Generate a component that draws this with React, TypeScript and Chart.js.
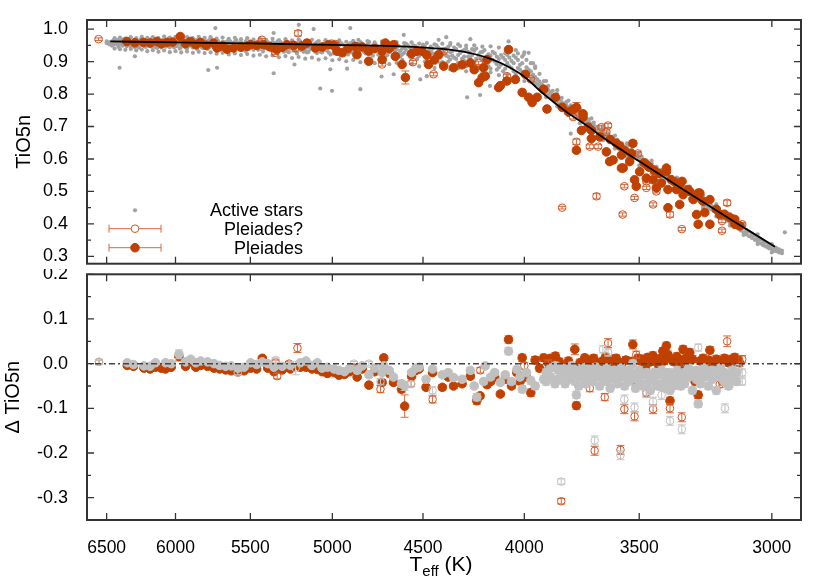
import React, { useEffect, useRef } from 'react';
import { Chart, registerables } from 'chart.js';
Chart.register(...registerables);

const FONT = "'Liberation Sans', Arial, Helvetica, sans-serif";

// ---------- axis ticks ----------
const xTicks = [3000, 3500, 4000, 4500, 5000, 5500, 6000, 6500];
const topYTicks = [0.3, 0.4, 0.5, 0.6, 0.7, 0.8, 0.9, 1.0];
const topYMinor = [0.35, 0.45, 0.55, 0.65, 0.75, 0.85, 0.95];
const botYTicks = [-0.3, -0.2, -0.1, 0.0, 0.1, 0.2];
const botYMinor = [-0.25, -0.15, -0.05, 0.05, 0.15];

// ---------- top panel: active field stars [Teff, TiO5n] ----------
const activeStars: number[][] = [
  [6500,.957],[6500,.962],[6480,.953],[6480,.960],[6450,.958],[6450,.952],[6450,.966],[6430,.963],[6430,.955],
  [6410,.950],[6410,.960],[6410,.945],[6390,.957],[6390,.966],[6370,.953],[6370,.961],[6370,.969],[6350,.958],[6350,.947],
  [6330,.964],[6330,.955],[6330,.950],[6310,.951],[6310,.960],[6290,.957],[6290,.968],[6290,.944],[6270,.949],[6270,.962],
  [6250,.955],[6250,.958],[6250,.968],[6230,.966],[6230,.950],[6210,.958],[6210,.945],[6210,.962],[6190,.962],[6190,.953],
  [6170,.956],[6170,.970],[6170,.946],[6150,.948],[6150,.960],[6130,.963],[6130,.954],[6130,.942],[6110,.951],[6110,.958],
  [6090,.957],[6090,.966],[6090,.947],[6070,.946],[6070,.960],[6050,.955],[6050,.962],[6050,.970],[6030,.959],[6030,.950],
  [6010,.964],[6010,.953],[6010,.944],[5990,.948],[5990,.957],[5970,.956],[5970,.961],[5970,.940],[5950,.952],[5950,.967],
  [5930,.944],[5930,.958],[5930,.950],[5910,.960],[5910,.953],[5890,.955],[5890,.948],[5890,.965],[5870,.962],[5870,.950],
  [5850,.946],[5850,.957],[5850,.938],[5830,.953],[5830,.965],[5810,.958],[5810,.941],[5810,.950],[5790,.950],[5790,.962],
  [5770,.955],[5770,.944],[5770,.966],[5750,.960],[5750,.948],[5730,.942],[5730,.956],[5730,.951],[5710,.951],[5710,.963],
  [5690,.957],[5690,.945],[5690,.936],[5670,.947],[5670,.960],[5650,.954],[5650,.938],[5650,.962],[5630,.962],[5630,.949],
  [5610,.944],[5610,.956],[5610,.934],[5590,.950],[5590,.966],[5570,.958],[5570,.940],[5570,.947],[5550,.946],[5550,.953],
  [5530,.955],[5530,.962],[5530,.932],[5510,.939],[5510,.950],[5490,.959],[5490,.945],[5490,.953],[5470,.948],[5470,.957],
  [5450,.952],[5450,.936],[5450,.962],[5430,.963],[5430,.944],[5410,.941],[5410,.955],[5410,.949],[5390,.950],[5390,.960],
  [5370,.946],[5370,.934],[5370,.956],[5350,.957],[5350,.942],[5330,.938],[5330,.952],[5330,.962],[5310,.960],[5310,.947],
  [5290,.944],[5290,.955],[5290,.930],[5270,.951],[5270,.932],[5250,.940],[5250,.958],[5250,.948],[5230,.948],[5230,.936],
  [5210,.956],[5210,.945],[5210,.925],[5190,.937],[5190,.962],[5170,.950],[5170,.942],[5170,.930],[5150,.944],[5150,.928],
  [5130,.958],[5130,.939],[5130,.949],[5110,.935],[5110,.952],[5090,.948],[5090,.960],[5090,.926],[5070,.941],[5070,.930],
  [5050,.955],[5050,.944],[5050,.935],[5030,.933],[5030,.950],[5010,.946],[5010,.962],[5010,.922],[4990,.939],[4990,.925],
  [4970,.952],[4970,.944],[4970,.932],[4950,.930],[4950,.957],[4930,.945],[4930,.936],[4930,.920],[4910,.950],[4910,.922],
  [4890,.938],[4890,.958],[4890,.928],[4870,.946],[4870,.928],[4850,.931],[4850,.952],[4850,.940],[4830,.955],[4830,.940],
  [4810,.925],[4810,.946],[4810,.935],[4790,.942],[4790,.960],[4770,.934],[4770,.918],[4770,.950],[4750,.950],[4750,.938],
  [4730,.928],[4730,.944],[4730,.912],[4710,.946],[4710,.956],[4690,.920],[4690,.937],[4690,.948],[4670,.940],[4670,.952],
  [4650,.931],[4650,.912],[4650,.944],[4630,.948],[4630,.925],[4610,.922],[4610,.940],[4610,.905],[4590,.936],[4590,.955],
  [4570,.915],[4570,.944],[4570,.928],[4550,.930],[4550,.950],[4530,.942],[4530,.908],[4530,.922],[4510,.924],[4510,.936],
  [4490,.946],[4490,.915],[4490,.900],[4470,.918],[4470,.933],[4450,.940],[4450,.905],[4450,.925],[4430,.927],[4430,.950],
  [4410,.912],[4410,.938],[4410,.895],[4390,.935],[4390,.922],[4370,.945],[4370,.900],[4370,.915],[4350,.918],[4350,.932],
  [4330,.938],[4330,.908],[4330,.890],[4310,.926],[4310,.948],[4290,.902],[4290,.935],[4290,.915],[4270,.930],[4270,.915],
  [4250,.920],[4250,.895],[4250,.938],[4230,.940],[4230,.908],[4210,.912],[4210,.928],[4210,.880],[4190,.898],[4190,.935],
  [4170,.922],[4170,.885],[4170,.910],[4150,.905],[4150,.930],[4130,.915],[4130,.892],[4130,.875],[4110,.890],[4110,.920],
  [4090,.905],[4090,.878],[4090,.925],[4070,.912],[4070,.885],[4050,.895],[4050,.870],[4050,.918],[4030,.905],[4030,.880],
  [4010,.868],[4010,.895],[4010,.915],[3990,.882],[3990,.858],[3990,.905],[3970,.870],[3970,.848],[3970,.895],
  [3950,.852],[3950,.835],[3950,.880],[3930,.838],[3930,.825],[3930,.862],[3910,.820],[3910,.808],[3910,.840],
  [3890,.812],[3890,.798],[3890,.825],[3870,.795],[3870,.785],[3870,.810],[3850,.790],[3850,.775],[3850,.800],
  [3830,.775],[3830,.762],[3830,.788],[3810,.765],[3810,.752],[3810,.775],[3790,.755],[3790,.742],[3790,.765],
  [3770,.745],[3770,.732],[3770,.752],[3750,.735],[3750,.722],[3750,.745],[3730,.725],[3730,.712],[3730,.735],
  [3710,.712],[3710,.702],[3710,.722],[3690,.704],[3690,.692],[3690,.712],[3670,.694],[3670,.680],[3670,.700],
  [3650,.684],[3650,.671],[3650,.690],[3630,.672],[3630,.662],[3630,.680],[3610,.664],[3610,.650],[3610,.668],
  [3590,.652],[3590,.642],[3590,.660],[3570,.643],[3570,.630],[3570,.648],[3550,.632],[3550,.621],[3550,.640],
  [3530,.622],[3530,.610],[3530,.628],[3510,.612],[3510,.601],[3510,.618],[3490,.601],[3490,.590],[3490,.607],
  [3470,.592],[3470,.580],[3470,.596],[3450,.582],[3450,.570],[3450,.587],[3430,.571],[3430,.560],[3430,.576],
  [3410,.562],[3410,.549],[3410,.566],[3390,.550],[3390,.540],[3390,.555],[3370,.541],[3370,.528],[3370,.545],
  [3350,.530],[3350,.518],[3350,.533],[3330,.520],[3330,.507],[3330,.512],[3310,.509],[3310,.496],[3310,.501],
  [3290,.498],[3290,.485],[3290,.490],[3270,.487],[3270,.474],[3270,.480],[3250,.476],[3250,.462],[3250,.469],
  [3230,.465],[3230,.450],[3230,.457],[3210,.452],[3210,.440],[3210,.446],[3190,.442],[3190,.428],[3190,.434],
  [3170,.430],[3170,.416],[3170,.422],[3150,.418],[3150,.404],[3150,.410],[3130,.405],[3130,.392],[3130,.398],
  [3110,.394],[3110,.380],[3110,.386],[3090,.382],[3090,.368],[3090,.375],[3070,.370],[3070,.357],[3070,.363],
  [3050,.358],[3050,.345],[3050,.351],[3030,.348],[3030,.334],[3030,.340],[3010,.337],[3010,.325],[3010,.330],
  [2990,.327],[2990,.318],[2975,.322],[2975,.312],
  [6460,.955],[6460,.949],[6440,.961],[6440,.957],[6420,.952],[6420,.967],[6400,.963],[6400,.954],[6380,.949],[6380,.959],
  [6360,.966],[6360,.956],[6340,.952],[6340,.961],[6320,.958],[6320,.946],[6300,.963],[6300,.951],[6280,.955],[6280,.960],
  [6260,.943],[6260,.964],[6240,.957],[6240,.952],[6220,.961],[6220,.947],[6200,.953],[6200,.966],[6180,.949],[6180,.958],
  [6160,.964],[6160,.952],[6140,.957],[6140,.945],[6120,.961],[6120,.966],[6100,.943],[6100,.954],[6080,.952],[6080,.963],
  [6060,.958],[6060,.949],[6040,.966],[6040,.944],[6020,.951],[6020,.957],[6000,.960],[6000,.947],[5980,.954],[5980,.965],
  [5960,.945],[5960,.959],[5940,.962],[5940,.951],[5920,.956],[5920,.940],[5900,.949],[5900,.963],[5880,.958],[5880,.943],
  [5860,.953],[5860,.966],[5840,.961],[5840,.948],[5820,.944],[5820,.955],[5800,.956],[5800,.962],[5780,.948],[5780,.939],
  [5760,.963],[5760,.952],[5740,.950],[5740,.945],[5720,.959],[5720,.937],[5700,.946],[5700,.954],[5680,.961],[5680,.950],
  [5660,.941],[5660,.957],[5640,.953],[5640,.946],[5620,.958],[5620,.935],[5600,.947],[5600,.961],[5580,.952],[5580,.943],
  [5560,.960],[5560,.937],[5540,.944],[5540,.950],[5520,.957],[5520,.940],[5500,.948],[5500,.962],[5480,.936],[5480,.953],
  [5460,.955],[5460,.944],[5440,.949],[5440,.939],[5420,.957],[5420,.931],[5400,.944],[5400,.952],[5380,.953],[5380,.940],
  [5360,.939],[5360,.960],[5340,.949],[5340,.933],[5320,.955],[5320,.944],[5300,.942],[5300,.950],[5280,.958],[5280,.936],
  [5260,.946],[5260,.929],[5240,.953],[5240,.941],[5220,.933],[5220,.950],[5200,.944],[5200,.957],[5180,.949],[5180,.935],
  [5160,.938],[5160,.955],[5140,.952],[5140,.930],[5120,.943],[5120,.948],[5100,.930],[5100,.956],[5080,.952],[5080,.938],
  [5060,.945],[5060,.928],[5040,.938],[5040,.953],[5020,.949],[5020,.927],[5000,.957],[5000,.940],[4980,.944],[4980,.931],
  [4960,.936],[4960,.950],[4940,.953],[4940,.925],[4920,.940],[4920,.947],[4900,.929],[4900,.955],[4880,.951],[4880,.935],
  [4860,.942],[4860,.921],[4840,.936],[4840,.956],[4820,.948],[4820,.930],[4800,.938],[4800,.952],[4780,.926],[4780,.945],
  [4760,.955],[4760,.931],[4740,.941],[4740,.921],[4720,.935],[4720,.952],[4700,.948],[4700,.916],[4680,.929],[4680,.943],
  [4660,.954],[4660,.920],[4640,.938],[4640,.948],[4620,.916],[4620,.933],[4600,.945],[4600,.927],[4580,.922],[4580,.950],
  [4560,.939],[4560,.911],[4540,.948],[4540,.926],[4520,.930],[4520,.917],[4500,.940],[4500,.952],[4480,.909],[4480,.928],
  [4460,.935],[4460,.946],[4440,.920],[4440,.903],[4420,.942],[4420,.915],[4400,.928],[4400,.898],[4380,.940],[4380,.918],
  [4360,.906],[4360,.929],[4340,.943],[4340,.912],[4320,.920],[4320,.896],[4300,.932],[4300,.909],[4280,.940],[4280,.885],
  [4260,.912],[4260,.926],[4240,.898],[4240,.933],[4220,.920],[4220,.887],[4200,.930],[4200,.905],[4180,.892],[4180,.915],
  [4160,.918],[4160,.878],[4140,.900],[4140,.925],[4120,.882],[4120,.908],[4100,.912],[4100,.870],[4080,.895],[4080,.920],
  [4060,.880],[4060,.902],[4040,.912],[4040,.862],[4020,.890],[4020,.875],
  [3980,.875],[3980,.862],[3960,.860],[3960,.845],[3940,.845],[3940,.830],[3920,.830],[3920,.815],[3900,.818],[3900,.802],
  [3880,.805],[3880,.792],[3860,.795],[3860,.780],[3840,.783],[3840,.770],[3820,.770],[3820,.758],[3800,.760],[3800,.748],
  [3780,.750],[3780,.738],[3760,.740],[3760,.728],[3740,.730],[3740,.718],[3720,.718],[3720,.707],[3700,.708],[3700,.697],
  [3680,.699],[3680,.686],[3660,.689],[3660,.676],[3640,.678],[3640,.667],[3620,.668],[3620,.656],[3600,.658],[3600,.646],
  [3580,.648],[3580,.636],[3560,.637],[3560,.626],[3540,.627],[3540,.616],[3520,.617],[3520,.605],[3500,.606],[3500,.596],
  [3480,.596],[3480,.585],[3460,.587],[3460,.575],[3440,.576],[3440,.565],[3420,.566],[3420,.554],[3400,.556],[3400,.545],
  [3380,.546],[3380,.534],[3360,.535],[3360,.523],[3340,.525],[3340,.512],[3320,.514],[3320,.502],[3300,.503],[3300,.491],
  [3280,.492],[3280,.480],[3260,.481],[3260,.468],[3240,.470],[3240,.456],[3220,.458],[3220,.445],[3200,.447],[3200,.434],
  [3180,.436],[3180,.422],[3160,.424],[3160,.410],[3140,.412],[3140,.398],[3120,.400],[3120,.386],[3100,.388],[3100,.374],
  [3080,.376],[3080,.362],[3060,.364],[3060,.351],[3040,.353],[3040,.340],[3020,.342],[3020,.330],[3000,.332],[3000,.322],
  [2985,.326],[2985,.316],[2965,.318],[2965,.310],
  [6440,.972],[6440,.940],[6400,.974],[6400,.938],[6360,.971],[6360,.936],[6320,.975],[6320,.939],[6280,.972],[6280,.934],
  [6240,.976],[6240,.937],[6200,.973],[6200,.932],[6160,.975],[6160,.935],[6120,.972],[6120,.930],[6080,.977],[6080,.934],
  [6040,.974],[6040,.929],[6000,.976],[6000,.932],[5960,.973],[5960,.928],[5920,.975],[5920,.931],[5880,.972],[5880,.927],
  [5840,.976],[5840,.930],[5800,.973],[5800,.926],[5760,.975],[5760,.928],[5720,.971],[5720,.924],[5680,.974],[5680,.927],
  [5640,.970],[5640,.922],[5600,.973],[5600,.925],[5560,.969],[5560,.920],[5520,.972],[5520,.923],[5480,.968],[5480,.918],
  [5440,.971],[5440,.921],[5400,.967],[5400,.916],[5360,.970],[5360,.919],[5320,.966],[5320,.913],[5280,.969],[5280,.917],
  [5240,.965],[5240,.911],[5200,.968],[5200,.914],[5160,.964],[5160,.909],[5120,.967],[5120,.912],[5080,.963],[5080,.906],
  [5040,.966],[5040,.910],[5000,.962],[5000,.904],[4960,.965],[4960,.907],[4920,.961],[4920,.901],[4880,.964],[4880,.905],
  [4840,.960],[4840,.898],[4800,.963],[4800,.902],[4760,.959],[4760,.895],[4720,.962],[4720,.899],[4680,.958],[4680,.892],
  [4640,.960],[4640,.896],[4600,.957],[4600,.889],[4560,.959],[4560,.892],[4520,.955],[4520,.885],[4480,.957],[4480,.888],
  [4440,.953],[4440,.880],[4400,.955],[4400,.884],[4360,.951],[4360,.876],[4320,.953],[4320,.879],[4280,.949],[4280,.870],
  [4240,.950],[4240,.873],[4200,.946],[4200,.865],[4160,.947],[4160,.867],[4120,.943],[4120,.858],[4080,.940],[4080,.860],
  [4040,.935],[4040,.850],[4000,.928],[4000,.840],
  [3950,.885],[3950,.832],[3900,.840],[3900,.790],[3850,.812],[3850,.762],[3800,.780],[3800,.735],[3750,.755],[3750,.710],
  [3700,.725],[3700,.682],[3650,.700],[3650,.658],[3600,.672],[3600,.632],[3550,.648],[3550,.606],[3500,.620],[3500,.580],
  [3450,.595],[3450,.555],[3400,.570],[3400,.530],[3350,.543],[3350,.505],[3300,.515],[3300,.478],[3250,.488],[3250,.450],
  [3200,.460],[3200,.423],[3150,.430],[3150,.395],[3100,.400],[3100,.366],[3050,.368],[3050,.338],[3000,.338],[3000,.312],
  [6403,.881],[6290,.916],[5776,.874],[5717,.881],[5728,1.003],[5353,.864],[5353,.988],[5225,.891],[5199,1.013],
  [5110,1.000],[4897,1.003],[5071,.817],[5002,.810],[4840,.815],[5012,.876],[4915,.878],[4722,.854],[4656,.861],
  [4602,.982],[4514,.845],[4480,.855],[4275,.790],[4211,.797],[4163,.825],[4419,.967],[4359,.957],[4851,.967],
  [4380,.975],[4259,.969],[4074,.962],[4003,.921],[3980,.927],[3790,.678],[2955,.374],[4030,.925],[3960,.895],
];

// ---------- top panel: Pleiades members [Teff, TiO5n, error] ----------
const pleiadesTop: number[][] = [
  [6349,.962,.004],[6227,.959,.004],[6131,.962,.004],[6060,.959,.004],[5967,.977,.004],[5897,.962,.004],[5829,.959,.004],
  [5740,.957,.004],[5717,.942,.004],[5608,.942,.004],[5521,.947,.004],[5500,.952,.004],[5416,.952,.004],[5353,.942,.004],
  [5333,.937,.004],[5271,.952,.004],[5149,.957,.004],[5099,.942,.004],[5022,.952,.004],[4973,.932,.004],[4944,.927,.004],
  [4868,.947,.004],[4859,.921,.004],[4793,.932,.004],[4793,.901,.004],[4719,.932,.004],[4701,.957,.004],[4656,.952,.004],
  [4719,.906,.004],[4647,.916,.004],[4611,.891,.004],[4593,.851,.020],[4532,.932,.004],[4505,.932,.004],[4471,.891,.004],
  [4419,.921,.004],[4393,.886,.004],[4343,.881,.004],[4259,.896,.004],[4194,.881,.004],[4186,.855,.004],[4218,.835,.004],
  [4121,.820,.004],[4201,.851,.004],[4177,.906,.004],[4113,.826,.004],[4074,.937,.004],[4082,.840,.004],[4042,.845,.004],
  [4010,.805,.004],[3995,.861,.004],[3980,.790,.004],[3964,.774,.004],[3941,.790,.004],[3911,.815,.004],[3896,.754,.004],
  [3858,.790,.004],[3828,.759,.004],[3765,.759,.015],[3765,.627,.006],[3736,.729,.005],[3736,.739,.005],[3743,.688,.005],
  [3714,.698,.005],[3700,.663,.005],[3700,.688,.005],[3664,.668,.005],[3636,.622,.005],[3622,.592,.005],[3608,.597,.005],
  [3594,.648,.005],[3573,.612,.005],[3532,.617,.005],[3526,.648,.008],[3573,.572,.005],[3566,.572,.005],[3539,.592,.005],
  [3519,.536,.005],[3512,.516,.005],[3498,.561,.005],[3471,.582,.005],[3471,.541,.005],[3444,.536,.005],[3431,.511,.005],
  [3411,.526,.010],[3391,.561,.005],[3391,.572,.005],[3385,.506,.005],[3385,.450,.005],[3372,.536,.005],[3352,.506,.005],
  [3339,.460,.005],[3330,.531,.005],[3326,.490,.005],[3307,.506,.005],[3287,.475,.005],[3268,.495,.005],[3262,.495,.005],
  [3268,.399,.005],[3274,.429,.005],[3243,.435,.005],[3224,.475,.005],[3224,.399,.005],[3187,.429,.005],[3138,.414,.005],
  [3132,.414,.005],[3132,.399,.005],[3114,.394,.005],[3800,.745,.005],[3780,.752,.005],[3620,.660,.005],[3580,.640,.005],
  [3560,.625,.005],[3480,.588,.005],[3460,.575,.005],[3440,.565,.005],[3420,.555,.005],[3360,.530,.005],[3340,.520,.005],
  [3300,.500,.005],[3250,.470,.005],[3200,.445,.005],[3170,.430,.005],[3150,.420,.005],
  [6290,.958,.004],[6180,.957,.004],[6100,.955,.004],[6020,.960,.004],[5930,.955,.004],[5860,.952,.004],[5790,.950,.004],
  [5680,.948,.004],[5650,.938,.004],[5560,.944,.004],[5460,.950,.004],[5380,.946,.004],[5300,.944,.004],[5230,.950,.004],
  [5180,.948,.004],[5060,.945,.004],[4990,.950,.004],[4910,.940,.004],[4830,.945,.004],[4760,.940,.004],[4680,.940,.004],
  [4560,.925,.004],[4480,.920,.004],[4440,.905,.004],[4300,.890,.004],[4240,.875,.004],
];

// ---------- top panel: possible Pleiades members [Teff, TiO5n, error] ----------
const candidatesTop: number[][] = [
  [6561,.969,.004],[5426,.967,.004],[5343,.927,.005],[5220,.942,.012],[5203,.987,.008],[4983,.954,.004],[4719,.891,.005],
  [4553,.898,.005],[4462,.906,.005],[4445,.861,.005],[4393,.932,.005],[4218,.896,.005],[4082,.855,.006],[3970,.845,.006],
  [3779,.729,.006],[3657,.698,.006],[3629,.703,.006],[3636,.683,.006],[3765,.653,.008],[3707,.638,.006],[3671,.638,.006],
  [3828,.450,.004],[3678,.485,.008],[3561,.516,.005],[3519,.480,.005],[3568,.429,.005],[3471,.531,.005],[3471,.511,.005],
  [3444,.460,.005],[3431,.500,.005],[3377,.429,.008],[3331,.384,.005],[3505,.617,.005],[3179,.379,.005],[3179,.409,.005],
  [3160,.465,.008],[3105,.399,.005],
];

// ---------- top panel: calibration curve [Teff, TiO5n] ----------
const fitCurve: number[][] = [
  [6473,.962],[6000,.959],[5500,.956],[5189,.953],[4620,.947],[4400,.939],[4276,.928],[4150,.906],[4066,.881],
  [4003,.855],[3911,.800],[3809,.745],[3700,.693],[3664,.673],[3498,.592],[3326,.506],[3138,.409],[2989,.330],
];

// ---------- bottom panel: residuals [Teff, dTiO5n, error] ----------
const pleiadesResidual: number[][] = [
  [6346,-.004,.004],[6224,-.010,.004],[6141,-.008,.004],[6070,-.012,.004],[5976,.016,.010],[5895,.004,.004],[5827,-.004,.004],
  [5737,-.010,.004],[5624,-.016,.004],[5498,-.010,.004],[5424,.012,.005],[5351,-.018,.005],[5156,-.008,.005],[5088,-.013,.005],
  [5029,-.022,.005],[4962,-.026,.005],[4876,-.010,.005],[4858,-.030,.005],[4792,-.048,.006],[4719,-.042,.006],[4710,.013,.006],
  [4657,-.042,.006],[4614,-.057,.008],[4597,-.095,.025],[4537,-.015,.005],[4484,-.053,.006],[4400,-.053,.006],[4343,-.050,.006],
  [4259,-.028,.006],[4227,-.083,.008],[4211,-.072,.006],[4177,-.047,.006],[4113,-.068,.006],[4074,.054,.008],[4035,-.020,.006],
  [4010,.013,.008],[3970,-.065,.008],[3950,.008,.008],[3930,-.010,.008],[3911,.013,.008],[3890,.004,.008],[3880,.012,.008],
  [3870,-.004,.008],[3858,.017,.008],[3840,.004,.008],[3820,-.008,.008],[3800,.006,.008],[3790,-.015,.008],[3772,.032,.012],
  [3765,-.094,.008],[3750,.002,.008],[3740,-.020,.008],[3729,.013,.008],[3710,.008,.008],[3700,-.005,.008],[3690,.012,.008],
  [3680,.003,.008],[3665,-.012,.008],[3650,.006,.008],[3640,.015,.008],[3625,-.004,.008],[3615,.004,.008],[3608,.010,.008],
  [3595,.012,.008],[3585,-.010,.008],[3570,.002,.008],[3555,.008,.008],[3540,-.020,.008],[3530,.005,.008],[3526,.043,.010],
  [3515,-.040,.008],[3505,.012,.008],[3495,.006,.008],[3485,.010,.008],[3475,-.008,.008],[3465,.014,.008],[3455,.004,.008],
  [3445,.018,.008],[3435,.008,.008],[3425,.000,.008],[3415,.012,.008],[3405,.028,.008],[3400,.006,.008],[3391,.040,.008],
  [3385,.020,.008],[3377,-.083,.008],[3370,.010,.008],[3360,.004,.008],[3350,.016,.008],[3340,-.010,.008],[3335,.008,.008],
  [3326,.032,.008],[3315,.012,.008],[3310,.002,.008],[3300,.025,.008],[3290,.010,.008],[3280,-.040,.008],[3268,-.070,.008],
  [3260,.006,.008],[3250,.012,.008],[3240,-.002,.008],[3230,.008,.008],[3224,.030,.008],[3210,.004,.008],[3200,.010,.008],
  [3190,-.005,.008],[3180,.006,.008],[3170,.012,.008],[3155,.002,.008],[3145,.010,.008],[3132,.014,.008],[3125,.004,.008],
  [3120,.008,.008],[3115,.002,.008],
  [6300,-.006,.004],[6180,-.012,.004],[6100,-.010,.004],[6030,-.008,.004],[5930,-.006,.004],[5860,-.008,.004],[5780,-.006,.004],
  [5700,-.012,.004],[5660,-.014,.004],[5580,-.018,.004],[5540,-.016,.004],[5460,-.012,.004],[5390,-.010,.004],[5300,-.014,.004],
  [5250,-.012,.004],[5190,-.008,.004],[5120,-.012,.004],[5060,-.018,.004],[4990,-.020,.004],[4930,-.024,.004],[4900,-.018,.004],
  [4830,-.012,.004],[4760,-.018,.004],[4680,-.022,.004],[4560,-.028,.005],[4520,-.012,.005],[4450,-.020,.005],[4370,-.030,.005],
  [4300,-.045,.006],[4160,-.040,.006],[4140,-.030,.006],[4090,-.035,.006],[4060,-.050,.006],[4020,-.040,.006],[3990,-.030,.006],
];

const pleiadesResidualAlt: number[][] = [
  [6346,.002,.004],[6300,-.002,.004],[6224,-.005,.004],[6180,-.006,.004],[6141,.002,.004],[6070,.002,.004],[6030,.000,.004],
  [5976,.021,.010],[5930,.004,.004],[5895,.010,.004],[5860,.002,.004],[5827,.006,.004],[5780,.004,.004],[5737,.000,.004],
  [5700,-.004,.004],[5660,-.006,.004],[5624,-.005,.004],[5580,-.010,.004],[5540,-.008,.004],[5498,.002,.004],[5460,-.002,.004],
  [5424,.004,.005],[5390,.000,.004],[5351,-.008,.005],[5300,-.006,.004],[5250,-.004,.004],[5190,.002,.004],[5156,.006,.005],
  [5120,-.004,.004],[5088,.002,.005],[5060,-.010,.004],[5029,-.008,.005],[4990,-.012,.004],[4962,-.015,.005],[4930,-.018,.004],
  [4900,-.010,.004],[4858,-.015,.005],[4830,-.005,.004],[4792,-.025,.006],[4760,-.010,.004],[4719,-.020,.006],[4710,-.005,.006],
  [4680,-.015,.004],[4657,-.030,.006],[4614,-.045,.008],[4597,-.050,.010],[4560,-.020,.005],[4537,-.010,.005],[4520,-.008,.005],
  [4484,-.035,.006],[4450,-.012,.005],[4400,-.025,.006],[4370,-.020,.005],[4343,-.031,.006],[4300,-.035,.006],[4259,-.015,.006],
  [4240,-.050,.006],[4227,-.075,.008],[4194,-.040,.006],[4186,-.005,.006],[4160,-.030,.006],[4140,-.020,.006],[4113,-.042,.006],
  [4090,-.025,.006],[4074,.028,.008],[4060,-.040,.006],[4035,-.013,.006],[4020,-.030,.006],[4010,-.057,.008],[3990,-.020,.006],
  [3970,-.038,.008],[3950,-.050,.008],[3911,-.035,.008],
  [3900,-.020,.008],[3900,-.040,.008],[3880,-.010,.008],[3880,-.030,.008],[3858,-.005,.008],[3860,-.045,.008],[3845,-.015,.008],
  [3845,-.035,.008],[3830,-.010,.008],[3830,-.030,.008],[3815,-.020,.008],[3815,-.045,.008],[3807,-.028,.008],[3800,-.012,.008],
  [3800,-.035,.008],[3785,-.005,.008],[3785,-.025,.008],[3770,-.015,.008],[3770,-.040,.008],[3765,-.070,.008],[3755,-.020,.008],
  [3755,-.050,.008],[3740,-.010,.008],[3740,-.030,.008],[3729,-.010,.008],[3725,-.025,.008],[3725,-.045,.008],[3710,-.012,.008],
  [3710,-.035,.008],[3695,-.020,.008],[3695,-.040,.008],[3680,-.008,.008],[3680,-.030,.008],[3665,-.015,.008],[3665,-.050,.008],
  [3650,-.020,.008],[3650,-.035,.008],[3635,-.010,.008],[3635,-.040,.008],[3620,-.025,.008],[3620,-.055,.008],[3608,-.020,.008],
  [3605,-.015,.008],[3605,-.035,.008],[3590,-.020,.008],[3590,-.045,.008],[3575,-.010,.008],[3575,-.030,.008],[3560,-.025,.008],
  [3560,-.050,.008],[3545,-.015,.008],[3545,-.040,.008],[3530,-.020,.008],[3530,-.035,.008],[3526,.000,.008],[3515,-.030,.008],
  [3515,-.055,.008],[3500,-.015,.008],[3500,-.040,.008],[3485,-.025,.008],[3485,-.050,.008],[3470,-.020,.008],[3470,-.045,.008],
  [3455,-.030,.008],[3455,-.060,.008],[3440,-.020,.008],[3440,-.040,.008],[3425,-.025,.008],[3425,-.050,.008],[3410,-.015,.008],
  [3410,-.045,.008],[3395,-.030,.008],[3395,-.055,.008],[3391,-.020,.008],[3380,-.020,.008],[3380,-.040,.008],[3377,-.060,.008],
  [3365,-.025,.008],[3365,-.050,.008],[3350,-.015,.008],[3350,-.035,.008],[3335,-.030,.008],[3335,-.050,.008],[3320,-.020,.008],
  [3320,-.045,.008],[3305,-.010,.008],[3305,-.030,.008],[3290,-.025,.008],[3290,-.060,.008],[3275,-.015,.008],[3275,-.035,.008],
  [3268,-.090,.008],[3260,-.020,.008],[3260,-.045,.008],[3245,-.010,.008],[3245,-.030,.008],[3230,-.025,.008],[3230,-.050,.008],
  [3215,-.015,.008],[3215,-.035,.008],[3200,-.020,.008],[3200,-.060,.008],[3185,-.010,.008],[3185,-.030,.008],[3170,-.020,.008],
  [3170,-.040,.008],[3155,-.030,.008],[3155,-.050,.008],[3140,-.015,.008],[3140,-.035,.008],[3133,-.035,.008],[3125,-.020,.008],
  [3125,-.040,.008],
];

const candidatesResidual: number[][] = [
  [6558,.004,.004],[5581,-.020,.005],[5341,.003,.005],[5331,-.028,.006],[5258,.000,.005],[5207,.035,.010],[4728,-.057,.008],
  [4563,-.045,.006],[4450,-.080,.008],[4210,-.015,.006],[4000,-.005,.008],[3890,.000,.008],[3832,-.308,.006],[3707,-.055,.008],
  [3686,-.195,.010],[3643,-.075,.008],[3629,.046,.010],[3577,-.193,.010],[3561,-.102,.010],[3519,-.118,.010],[3512,.020,.008],
  [3471,-.065,.008],[3444,-.102,.010],[3377,-.100,.010],[3331,-.120,.010],[3187,-.010,.008],[3187,-.046,.008],[3179,-.040,.008],
  [3160,.050,.012],[3105,.010,.008],
];

const candidatesResidualAlt: number[][] = [
  [6558,.004,.004],[5581,-.020,.005],[5341,.008,.005],[5218,-.010,.015],[4876,.000,.005],[4792,.000,.005],[4728,-.040,.006],
  [4563,-.046,.006],[4450,-.060,.008],[3832,-.264,.006],[3772,-.038,.008],[3686,-.172,.010],[3651,.032,.008],[3629,.025,.008],
  [3577,-.205,.010],[3561,-.080,.010],[3519,-.098,.010],[3471,-.068,.008],[3444,-.085,.010],[3410,-.070,.010],[3377,-.128,.010],
  [3331,-.147,.010],[3268,.036,.008],[3200,-.030,.008],[3168,-.100,.010],[3150,-.045,.008],[3120,-.010,.008],[3105,-.020,.008],
  [3105,-.040,.008],
];

const zeroLine: number[][] = [[2900, 0], [6650, 0]];

// ---------- styles ----------
const X_MIN = 2900;
const X_MAX = 6650;
const ORANGE = '#c04000';
const ORANGE_OPEN = '#cf5524';
const ERR_ORANGE = '#d8693a';
const GREY_DOT = '#a2a2a2';
const GREY_RES = '#c0c0c0';
const ERR_GREY = '#c4c4c4';
const FRAME = '#333333';

const toPts = (a: number[][]) => a.map((r) => ({ x: r[0], y: r[1], err: r[2] }));

const errorBarPlugin = {
  id: 'errbars',
  beforeDatasetDraw(chart: any, args: any) {
    const ds = chart.data.datasets[args.index];
    if (!ds.errColor) return;
    const meta = args.meta;
    const ys = chart.scales[meta.yAxisID];
    const ctx = chart.ctx;
    const a = chart.chartArea;
    ctx.save();
    ctx.beginPath();
    ctx.rect(a.left, a.top, a.right - a.left, a.bottom - a.top);
    ctx.clip();
    ctx.strokeStyle = ds.errColor;
    ctx.lineWidth = 1;
    meta.data.forEach((el: any, i: number) => {
      const d = ds.data[i];
      if (d.err == null) return;
      const y1 = ys.getPixelForValue(d.y + d.err);
      const y2 = ys.getPixelForValue(d.y - d.err);
      ctx.beginPath();
      ctx.moveTo(el.x, y1); ctx.lineTo(el.x, y2);
      ctx.moveTo(el.x - 4, y1); ctx.lineTo(el.x + 4, y1);
      ctx.moveTo(el.x - 4, y2); ctx.lineTo(el.x + 4, y2);
      ctx.stroke();
    });
    ctx.restore();
  },
};

function framePlugin(yMajor: number[], yMinor: number[]) {
  return {
    id: 'frame',
    afterDraw(chart: any) {
      const { ctx, chartArea: a, scales } = chart;
      const xs = scales.x;
      const ys = scales.y;
      ctx.save();
      ctx.strokeStyle = FRAME;
      ctx.lineWidth = 1.3;
      ctx.beginPath();
      xTicks.forEach((t) => {
        const p = xs.getPixelForValue(t);
        ctx.moveTo(p, a.bottom); ctx.lineTo(p, a.bottom - 7);
        ctx.moveTo(p, a.top); ctx.lineTo(p, a.top + 7);
      });
      yMajor.forEach((v) => {
        const p = ys.getPixelForValue(v);
        ctx.moveTo(a.left, p); ctx.lineTo(a.left + 7, p);
        ctx.moveTo(a.right, p); ctx.lineTo(a.right - 7, p);
      });
      yMinor.forEach((v) => {
        const p = ys.getPixelForValue(v);
        ctx.moveTo(a.left, p); ctx.lineTo(a.left + 4, p);
        ctx.moveTo(a.right, p); ctx.lineTo(a.right - 4, p);
      });
      ctx.stroke();
      ctx.lineWidth = 2;
      ctx.strokeRect(a.left, a.top, a.right - a.left, a.bottom - a.top);
      ctx.restore();
    },
  };
}

const legendPlugin = {
  id: 'insideLegend',
  afterDatasetsDraw(chart: any) {
    const { ctx, chartArea: a } = chart;
    const byLabel = (l: string) => chart.data.datasets.find((d: any) => d.label === l);
    const rows = ['Active stars', 'Pleiades?', 'Pleiades'];
    const ysPix = [a.bottom - 53.4, a.bottom - 35, a.bottom - 16];
    const textX = a.left + 216;
    const symX = a.left + 48;
    ctx.save();
    ctx.font = `18px ${FONT}`;
    ctx.textAlign = 'right';
    ctx.textBaseline = 'middle';
    rows.forEach((label, i) => {
      const ds = byLabel(label);
      const y = ysPix[i];
      ctx.fillStyle = '#000';
      ctx.fillText(label, textX, y + 1);
      if (i === 0) {
        ctx.beginPath();
        ctx.arc(symX, y, ds.pointRadius, 0, Math.PI * 2);
        ctx.fillStyle = ds.backgroundColor;
        ctx.fill();
      } else {
        ctx.strokeStyle = ds.errColor;
        ctx.lineWidth = 1;
        ctx.beginPath();
        ctx.moveTo(symX - 26, y); ctx.lineTo(symX + 26, y);
        ctx.moveTo(symX - 26, y - 4); ctx.lineTo(symX - 26, y + 4);
        ctx.moveTo(symX + 26, y - 4); ctx.lineTo(symX + 26, y + 4);
        ctx.stroke();
        ctx.beginPath();
        ctx.arc(symX, y, ds.pointRadius, 0, Math.PI * 2);
        ctx.fillStyle = i === 2 ? ds.backgroundColor : '#fff';
        ctx.fill();
        ctx.strokeStyle = ds.borderColor;
        ctx.stroke();
      }
    });
    ctx.restore();
  },
};

const xTitlePlugin = {
  id: 'xTitle',
  afterDraw(chart: any) {
    const { ctx, chartArea: a } = chart;
    const cx = (a.left + a.right) / 2 - 3;
    const base = a.bottom + 51;
    ctx.save();
    ctx.fillStyle = '#000';
    ctx.textBaseline = 'alphabetic';
    ctx.textAlign = 'left';
    const big = `21px ${FONT}`;
    const small = `15px ${FONT}`;
    ctx.font = big;
    const wT = ctx.measureText('T').width;
    const wK = ctx.measureText(' (K)').width;
    ctx.font = small;
    const wS = ctx.measureText('eff').width;
    let x = cx - (wT + wS + wK) / 2;
    ctx.font = big;
    ctx.fillText('T', x, base);
    x += wT;
    ctx.font = small;
    ctx.fillText('eff', x, base + 5);
    x += wS;
    ctx.font = big;
    ctx.fillText(' (K)', x, base);
    ctx.restore();
  },
};

function xScale(display: boolean) {
  return {
    type: 'logarithmic' as const,
    min: X_MIN,
    max: X_MAX,
    reverse: true,
    display,
    afterBuildTicks: (s: any) => { s.ticks = xTicks.map((value) => ({ value })); },
    afterFit: (s: any) => { if (display) s.height = 61; s.paddingLeft = 0; s.paddingRight = 0; },
    grid: { display: false },
    border: { display: false },
    ticks: {
      autoSkip: false,
      maxRotation: 0,
      padding: 10,
      color: '#000',
      font: { size: 17.5, family: FONT },
      callback: (v: any) => String(v),
    },
  };
}

function yScale(min: number, max: number, ticks: number[], title: string, titlePad: number) {
  return {
    type: 'linear' as const,
    min,
    max,
    afterBuildTicks: (s: any) => { s.ticks = ticks.map((value) => ({ value })); },
    afterFit: (s: any) => { s.width = 87; s.paddingTop = 0; s.paddingBottom = 0; },
    grid: { display: false },
    border: { display: false },
    ticks: {
      autoSkip: false,
      padding: 11,
      color: '#000',
      font: { size: 18, family: FONT },
      callback: (v: any) => Number(v).toFixed(1),
    },
    title: {
      display: true,
      text: title,
      color: '#000',
      font: { size: 20, family: FONT },
      padding: { top: titlePad, bottom: 0 },
    },
  };
}

export default function App() {
  const topRef = useRef<HTMLCanvasElement>(null);
  const botRef = useRef<HTMLCanvasElement>(null);

  useEffect(() => {
    Chart.defaults.font.family = FONT;
    const common = {
      responsive: false,
      animation: false as const,
      devicePixelRatio: 1,
      events: [] as any[],
    };

    const top = new Chart(topRef.current!, {
      type: 'scatter',
      data: {
        datasets: [
          {
            label: 'fit',
            data: fitCurve.map((r) => ({ x: r[0], y: r[1] })),
            showLine: true,
            borderColor: '#000',
            borderWidth: 1.8,
            pointRadius: 0,
            cubicInterpolationMode: 'monotone',
            order: 0,
          } as any,
          {
            label: 'Pleiades',
            data: toPts(pleiadesTop),
            backgroundColor: ORANGE,
            borderColor: ORANGE,
            borderWidth: 1,
            pointRadius: 4.3,
            errColor: ERR_ORANGE,
            order: 1,
          } as any,
          {
            label: 'Pleiades?',
            data: toPts(candidatesTop),
            backgroundColor: 'rgba(0,0,0,0)',
            borderColor: ORANGE_OPEN,
            borderWidth: 1,
            pointRadius: 3.8,
            errColor: ERR_ORANGE,
            order: 2,
          } as any,
          {
            label: 'Active stars',
            data: activeStars.map((r) => ({ x: r[0], y: r[1] })),
            backgroundColor: GREY_DOT,
            borderWidth: 0,
            pointRadius: 2.1,
            order: 3,
          } as any,
        ],
      },
      options: {
        ...common,
        layout: { padding: { left: 0, right: 29, top: 20, bottom: 2.3 } },
        plugins: { legend: { display: false }, tooltip: { enabled: false } },
        scales: {
          x: xScale(false) as any,
          y: yScale(0.2775, 1.028, topYTicks, 'TiO5n', 12) as any,
        },
      },
      plugins: [errorBarPlugin, framePlugin(topYTicks, topYMinor), legendPlugin],
    });

    const bottom = new Chart(botRef.current!, {
      type: 'scatter',
      data: {
        datasets: [
          {
            label: 'zero',
            data: zeroLine.map((r) => ({ x: r[0], y: r[1] })),
            showLine: true,
            borderColor: '#444',
            borderWidth: 1.5,
            borderDash: [6, 3, 2, 3],
            pointRadius: 0,
            order: 0,
          } as any,
          {
            label: 'Pleiades? (alt)',
            data: toPts(candidatesResidualAlt),
            backgroundColor: 'rgba(0,0,0,0)',
            borderColor: GREY_RES,
            borderWidth: 1,
            pointRadius: 3.8,
            errColor: ERR_GREY,
            order: 1,
          } as any,
          {
            label: 'Pleiades (alt)',
            data: toPts(pleiadesResidualAlt),
            backgroundColor: GREY_RES,
            borderColor: GREY_RES,
            borderWidth: 1,
            pointRadius: 4.3,
            errColor: ERR_GREY,
            order: 2,
          } as any,
          {
            label: 'Pleiades?',
            data: toPts(candidatesResidual),
            backgroundColor: 'rgba(0,0,0,0)',
            borderColor: ORANGE_OPEN,
            borderWidth: 1,
            pointRadius: 3.8,
            errColor: ERR_ORANGE,
            order: 3,
          } as any,
          {
            label: 'Pleiades',
            data: toPts(pleiadesResidual),
            backgroundColor: ORANGE,
            borderColor: ORANGE,
            borderWidth: 1,
            pointRadius: 4.3,
            errColor: ERR_ORANGE,
            order: 4,
          } as any,
        ],
      },
      options: {
        ...common,
        layout: { padding: { left: 0, right: 29, top: 3.8, bottom: 0 } },
        plugins: { legend: { display: false }, tooltip: { enabled: false } },
        scales: {
          x: xScale(true) as any,
          y: yScale(-0.35, 0.2, botYTicks, '\u0394 TiO5n', 1.5) as any,
        },
      },
      plugins: [errorBarPlugin, framePlugin(botYTicks, botYMinor), xTitlePlugin],
    });

    return () => {
      top.destroy();
      bottom.destroy();
    };
  }, []);

  return (
    <div style={{ position: 'absolute', left: 0, top: 0, width: 830, height: 581, background: '#fff' }}>
      <canvas
        ref={topRef}
        width={830}
        height={269}
        style={{ position: 'absolute', left: 0, top: 0, width: 830, height: 269 }}
      />
      <canvas
        ref={botRef}
        width={830}
        height={312}
        style={{ position: 'absolute', left: 0, top: 269, width: 830, height: 312 }}
      />
    </div>
  );
}
